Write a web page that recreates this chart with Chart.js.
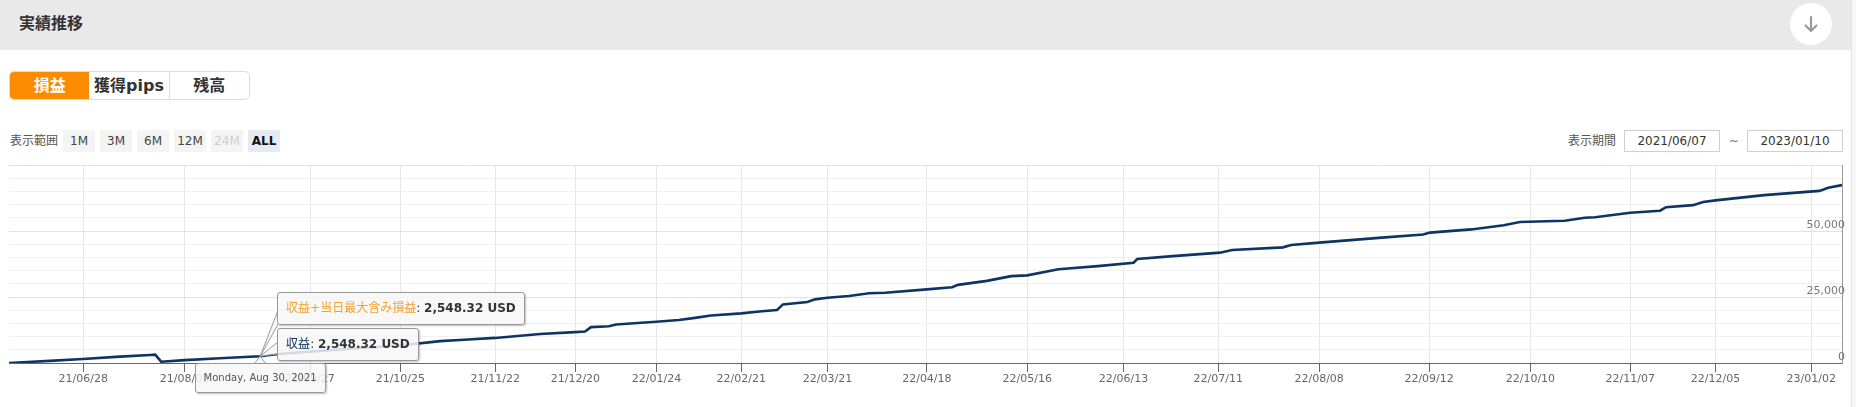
<!DOCTYPE html>
<html>

<head>
    <meta charset="utf-8">
    <script src="https://cdn.jsdelivr.net/npm/chart.js@4.4.1/dist/chart.umd.min.js"></script>
    <style>
        body {
            margin: 0;
            width: 1856px;
            height: 407px;
            overflow: hidden;
            background: #fff;
            font-family: "DejaVu Sans", "Noto Sans CJK JP", sans-serif;
            color: #333;
            position: relative;
        }

        .abs {
            position: absolute;
        }

        .hdr {
            left: 0;
            top: 0;
            width: 1851px;
            height: 50px;
            background: #e9e9e9;
        }

        .ttl {
            left: 19px;
            top: 13px;
            font-size: 16px;
            line-height: 22px;
            font-weight: bold;
            color: #333;
        }

        .dl {
            left: 1790px;
            top: 3px;
            width: 42px;
            height: 42px;
            border-radius: 50%;
            background: #fff;
        }

        .edge {
            left: 1851px;
            top: 0;
            width: 5px;
            height: 407px;
            background: #f7f7f7;
            border-left: 1px solid #e2e2e2;
        }

        .seg {
            left: 9px;
            top: 71px;
            width: 239px;
            height: 27px;
            border: 1px solid #dcdcdc;
            border-radius: 5px;
            overflow: hidden;
            display: flex;
        }

        .seg div {
            flex: 1;
            text-align: center;
            font-size: 16px;
            line-height: 27px;
            font-weight: bold;
            color: #333;
        }

        .seg .on {
            background: #fb8c00;
            color: #fff;
        }

        .seg .sep {
            border-left: 1px solid #dcdcdc;
        }

        .lbl {
            top: 130px;
            font-size: 12px;
            line-height: 22px;
            color: #555;
        }

        .rb {
            top: 130px;
            height: 22px;
            line-height: 22px;
            font-size: 12px;
            text-align: center;
            background: #f4f4f4;
            color: #444;
        }

        .date {
            top: 130px;
            height: 20px;
            line-height: 20px;
            font-size: 12px;
            text-align: center;
            border: 1px solid #cfcfcf;
            color: #333;
        }

        #chartBox {
            left: 0;
            top: 150px;
        }

        .tip {
            position: absolute;
            white-space: nowrap;
            background: rgba(247, 247, 247, 0.85);
            border: 1px solid #999;
            border-radius: 3px;
            box-shadow: 1px 1px 2px rgba(0, 0, 0, 0.25);
            padding: 7px 8px;
            font-size: 12px;
            line-height: 17px;
            color: #333;
        }

        .tip b {
            font-weight: bold;
        }

        #tipDate {
            font-size: 10px;
            line-height: 14px;
            color: #555;
        }
    </style>
</head>

<body>
    <div class="abs hdr"></div>
    <div class="abs ttl">実績推移</div>
    <div class="abs dl">
        <svg width="42" height="42" viewBox="0 0 42 42">
            <path d="M21 14 V28 M15.5 22.5 L21 28 L26.5 22.5" stroke="#9a9a9a" stroke-width="2.2" fill="none" stroke-linecap="round" stroke-linejoin="round" />
        </svg>
    </div>
    <div class="abs edge"></div>

    <div class="abs seg">
        <div class="on">損益</div>
        <div>獲得pips</div>
        <div class="sep">残高</div>
    </div>

    <div class="abs lbl" style="left:10px">表示範囲</div>
    <div class="abs rb" style="left:63px;width:32px">1M</div>
    <div class="abs rb" style="left:100px;width:32px">3M</div>
    <div class="abs rb" style="left:137px;width:32px">6M</div>
    <div class="abs rb" style="left:174px;width:32px">12M</div>
    <div class="abs rb" style="left:211px;width:32px;color:#cfcfcf">24M</div>
    <div class="abs rb" style="left:248px;width:32px;background:#e5eaf3;color:#111;font-weight:bold">ALL</div>

    <div class="abs lbl" style="left:1568px">表示期間</div>
    <div class="abs date" style="left:1624px;width:94px">2021/06/07</div>
    <div class="abs lbl" style="left:1729px;color:#777">~</div>
    <div class="abs date" style="left:1747px;width:94px">2023/01/10</div>

    <div class="abs" id="chartBox">
        <canvas id="pl-line" width="1856" height="257"></canvas>
    </div>

    <div class="tip" id="tipA"></div>
    <div class="tip" id="tipB"></div>
    <div class="tip" id="tipDate"></div>

    <script>
        // ordinal position of each sample (stock-style axis, 0..400 across the plot)
        const xPos = [0, 8.9, 16.1, 24.2, 30.8, 31.9, 33.2, 38.4, 46.0, 54.8,
            58.3, 65.7, 74.4, 85.3, 94.1, 99.3, 106.1, 115.9, 123.5, 125.7,
            127.0, 130.9, 132.5, 141.2, 146.2, 149.7, 153.2, 159.8, 164.3, 167.6,
            168.9, 174.2, 175.9, 178.6, 183.3, 187.7, 191.2, 200.3, 205.8, 207.1,
            213.4, 218.7, 222.2, 229.0, 237.6, 245.4, 246.2, 254.0, 264.3, 266.9,
            278.0, 279.8, 285.9, 299.6, 308.6, 310.1, 319.1, 326.2, 329.7, 339.5,
            343.9, 346.1, 353.8, 360.3, 361.6, 367.5, 369.7, 372.4, 383.0, 395.1,
            397.0, 400
        ]
        // 収益 (USD)
        const profit = [0, 800, 1500, 2400, 3050, 3150, 500, 1100, 1800, 2548.32,
            3300, 4300, 5400, 6600, 8300, 8800, 9500, 11000, 11700, 11900,
            13600, 13900, 14600, 15600, 16300, 17100, 18000, 18800, 19600, 20100,
            22200, 23100, 24100, 24700, 25400, 26400, 26600, 27900, 28700, 29600,
            31100, 32900, 33200, 35500, 36700, 38000, 39400, 40500, 41800, 42800,
            43800, 44700, 45600, 47500, 48700, 49400, 50600, 52200, 53400, 53900,
            55000, 55200, 56900, 57700, 59000, 59800, 61000, 61600, 63600, 65200,
            66400, 67400
        ]
        const tickPos = [16.2, 38.3, 65.7, 85.4, 106.1, 123.6, 141.3, 159.8, 178.6, 200.3,
            222.2, 243.2, 263.9, 285.9, 309.9, 332.0, 353.8, 372.4, 393.3
        ]
        const tickLabels = ['21/06/28', '21/08/02', '21/09/27', '21/10/25', '21/11/22', '21/12/20',
            '22/01/24', '22/02/21', '22/03/21', '22/04/18', '22/05/16', '22/06/13', '22/07/11',
            '22/08/08', '22/09/12', '22/10/10', '22/11/07', '22/12/05', '23/01/02'
        ]
        const yLabelled = [0, 25000, 50000]
        const seriesNames = ['収益+当日最大含み損益', '収益']
        const tipIdx = 9
        const tipDate = 'Monday, Aug 30, 2021'

        const lineColor = '#0e3561'
        const fmt = v => v.toLocaleString('en-US', { minimumFractionDigits: 2, maximumFractionDigits: 2 })

        document.getElementById('tipA').innerHTML =
            '<span style="color:#f2a12c">' + seriesNames[0] + '</span>: <b>' + fmt(profit[tipIdx]) + ' USD</b>'
        document.getElementById('tipB').innerHTML =
            '<span style="color:' + lineColor + '">' + seriesNames[1] + '</span>: <b>' + fmt(profit[tipIdx]) + ' USD</b>'
        document.getElementById('tipDate').textContent = tipDate

        // split tooltip (boxes + callouts) anchored on the hovered point
        const splitTip = {
            id: 'splitTip',
            afterDraw(chart) {
                const ctx = chart.ctx
                const box = document.getElementById('chartBox')
                const ox = box.offsetLeft, oy = box.offsetTop
                const ax = chart.scales.x.getPixelForValue(xPos[tipIdx])
                const ay = chart.scales.y.getPixelForValue(profit[tipIdx])
                const a = document.getElementById('tipA')
                const b = document.getElementById('tipB')
                const d = document.getElementById('tipDate')
                const bx = ax + 17
                const aTop = ay - 64, bTop = ay - 28.5
                a.style.left = (ox + bx) + 'px'
                a.style.top = (oy + aTop) + 'px'
                b.style.left = (ox + bx) + 'px'
                b.style.top = (oy + bTop) + 'px'
                const dTop = chart.chartArea.bottom
                d.style.left = (ox + ax - d.offsetWidth / 2) + 'px'
                d.style.top = (oy + dTop) + 'px'

                const wedge = (x1, y1, x2, y2) => {
                    ctx.save()
                    ctx.beginPath()
                    ctx.moveTo(x1, y1)
                    ctx.lineTo(ax, ay)
                    ctx.lineTo(x2, y2)
                    ctx.closePath()
                    ctx.fillStyle = 'rgba(247,247,247,0.9)'
                    ctx.fill()
                    ctx.beginPath()
                    ctx.moveTo(x1, y1)
                    ctx.lineTo(ax, ay)
                    ctx.lineTo(x2, y2)
                    ctx.strokeStyle = '#999'
                    ctx.lineWidth = 1
                    ctx.stroke()
                    ctx.restore()
                }
                wedge(bx + 1, aTop + 18, bx + 1, aTop + 32)
                wedge(bx + 1, bTop + 14, bx + 1, bTop + 26)
                wedge(ax - 6, dTop + 1, ax + 6, dTop + 1)
            }
        }

        new Chart(document.getElementById('pl-line').getContext('2d'), {
            type: 'line',
            data: {
                datasets: [{
                    label: seriesNames[1],
                    data: xPos.map((x, i) => ({ x: x, y: profit[i] })),
                    borderColor: lineColor,
                    borderWidth: 2.6,
                    pointRadius: 0,
                    tension: 0,
                    fill: false
                }]
            },
            options: {
                responsive: false,
                animation: false,
                devicePixelRatio: 1,
                layout: {
                    padding: { left: 9, right: 14, top: 15, bottom: 0 }
                },
                plugins: {
                    legend: { display: false },
                    tooltip: { enabled: false }
                },
                scales: {
                    x: {
                        type: 'linear',
                        min: 0,
                        max: 400,
                        afterBuildTicks: ax => { ax.ticks = tickPos.map(v => ({ value: v })) },
                        afterFit: s => { s.height = 44 },
                        grid: {
                            color: '#e6e6e6',
                            tickColor: '#666',
                            tickLength: 9
                        },
                        border: { color: '#666', width: 1 },
                        ticks: {
                            autoSkip: false,
                            maxRotation: 0,
                            padding: 1,
                            color: '#666',
                            font: { family: '"DejaVu Sans"', size: 11 },
                            callback: (v, i) => tickLabels[i]
                        }
                    },
                    y: {
                        position: 'right',
                        min: 0,
                        max: 75000,
                        afterFit: s => { s.width = 0 },
                        grid: {
                            drawTicks: false,
                            color: c => (c.tick && c.tick.value % 25000 === 0) ? '#e2e2e2' : '#f1f1f1'
                        },
                        border: { color: '#999' },
                        ticks: {
                            stepSize: 5000,
                            autoSkip: false,
                            mirror: true,
                            padding: 3,
                            labelOffset: -6,
                            color: '#777',
                            font: { family: '"DejaVu Sans"', size: 11 },
                            callback: v => yLabelled.includes(v) ? v.toLocaleString('en-US') : ''
                        }
                    }
                }
            },
            plugins: [splitTip]
        });
    </script>
</body>

</html>
